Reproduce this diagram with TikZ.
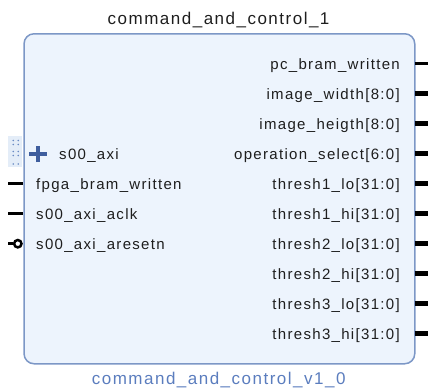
\documentclass[tikz,border=0pt]{standalone}
\usepackage{fontspec}
\setmainfont{Liberation Sans}[LetterSpace=8.8]
\definecolor{boxfill}{HTML}{EDF4FD}
\definecolor{boxedge}{HTML}{7C97C6}
\definecolor{subcol}{HTML}{5B7DBE}
\definecolor{plusc}{HTML}{3F5E9E}
\definecolor{dotc}{HTML}{6A8BC4}
\definecolor{dotbg}{HTML}{E4EDF8}
\definecolor{txt}{HTML}{1E1E1E}
\begin{document}
\begin{tikzpicture}[x=1pt,y=-1pt,
  lbl/.style={font=\fontsize{15}{18}\selectfont, text=txt, inner sep=0pt},
  rlbl/.style={lbl, anchor=base east},
  llbl/.style={lbl, anchor=base west},
  wirepin/.style={line width=2.7pt, black},
  buspin/.style={line width=5pt, black},
  ttl/.style={font=\fontsize{17}{20}\selectfont, inner sep=0pt, anchor=base}]
\useasboundingbox (0,0) rectangle (428,389);
% block
\node[draw=boxedge, fill=boxfill, line width=1.5pt, rounded corners=10pt,
      minimum width=390.7pt, minimum height=330pt, inner sep=0pt,
      anchor=north west] (blk) at (23.3,33) {};
% titles
\node[ttl, text=txt] (title) at (218.6,24) {command\_and\_control\_1};
\node[ttl, text=subcol] (sub) at (218.7,384) {command\_and\_control\_v1\_0};
% right labels and pins
\foreach \i/\t/\s in {0/pc\_bram\_written/wirepin,
                       1/image\_width[8:0]/buspin,
                       2/image\_heigth[8:0]/buspin,
                       3/operation\_select[6:0]/buspin,
                       4/thresh1\_lo[31:0]/buspin,
                       5/thresh1\_hi[31:0]/buspin,
                       6/thresh2\_lo[31:0]/buspin,
                       7/thresh2\_hi[31:0]/buspin,
                       8/thresh3\_lo[31:0]/buspin,
                       9/thresh3\_hi[31:0]/buspin}{
  \pgfmathsetmacro{\yy}{63.7+30*\i}
  \node[rlbl] (r\i) at (400,\yy+5.3) {\t};
  \coordinate (ra\i) at (414.7,\yy);
  \coordinate (rb\i) at (428,\yy);
  \draw[\s] (ra\i) -- (rb\i);
}
% left interface s00_axi
\fill[dotbg] (8,136) rectangle (22,167);
\foreach \yy in {140.5,144.5,151.5,155.5,164}{
  \fill[dotc] (13.3,\yy) circle (0.9pt);
  \fill[dotc] (18.3,\yy) circle (0.9pt);
}
\coordinate (plc) at (38,154);
\draw[plusc, line width=3.6pt] ([xshift=-9pt]plc) -- ([xshift=9pt]plc);
\draw[plusc, line width=3.6pt] ([yshift=-8pt]plc) -- ([yshift=8pt]plc);
\node[llbl] (l0) at (59,153.7+5.3) {s00\_axi};
% left pins
\node[llbl] (l1) at (36,183.7+5.3) {fpga\_bram\_written};
\node[llbl] (l2) at (36,213.7+5.3) {s00\_axi\_aclk};
\node[llbl] (l3) at (36,243.7+5.3) {s00\_axi\_aresetn};
\coordinate (la1) at (8,183.7);  \coordinate (lb1) at (23.3,183.7);
\coordinate (la2) at (8,213.7);  \coordinate (lb2) at (23.3,213.7);
\coordinate (la3) at (8,243.7);  \coordinate (lb3) at (13,243.7);
\draw[wirepin] (la1) -- (lb1);
\draw[wirepin] (la2) -- (lb2);
\draw[wirepin] (la3) -- (lb3);
\node[draw=black, line width=2.5pt, circle, minimum size=7.4pt, inner sep=0pt,
      fill=white] (inv) at (17.8,243.7) {};
\end{tikzpicture}
\end{document}
